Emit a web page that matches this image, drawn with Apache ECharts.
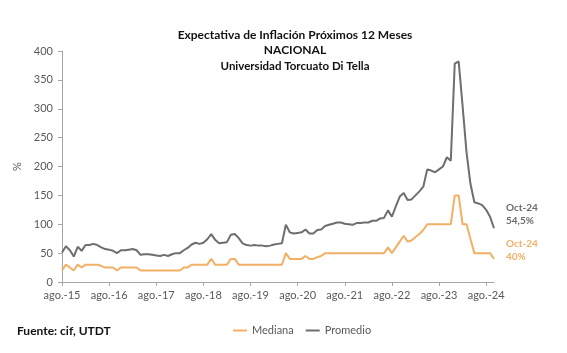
<!DOCTYPE html>
<html>
<head>
  <meta charset="UTF-8">
  <title>Expectativa de Inflación</title>
  <style type="text/css">
    html, body { margin: 0; padding: 0; background: #ffffff; }
    #chart { width: 567px; height: 353px; }
  </style>
  <script src="https://cdn.jsdelivr.net/npm/echarts@6/dist/echarts.min.js"></script>
</head>
<body>
<div id="chart"></div>
<script type="text/javascript">
    // meses desde ago-15 hasta oct-24
    var mesesCortos = ['ene', 'feb', 'mar', 'abr', 'may', 'jun', 'jul', 'ago', 'sep', 'oct', 'nov', 'dic'];
    var anios = ['15', '16', '17', '18', '19', '20', '21', '22', '23', '24'];

    // Mediana (%)
    var mediana = [
        20, 30, 25, 20, 30,                                  // 2015 ago-dic
        25, 30, 30, 30, 30, 28, 25, 25, 25, 20, 25, 25,      // 2016
        25, 25, 25, 20, 20, 20, 20, 20, 20, 20, 20, 20,      // 2017
        20, 20, 25, 25, 30, 30, 30, 30, 30, 40, 30, 30,      // 2018
        30, 30, 40, 40, 30, 30, 30, 30, 30, 30, 30, 30,      // 2019
        30, 30, 30, 30, 50, 40, 40, 40, 40, 45, 40, 40,      // 2020
        43, 45, 50, 50, 50, 50, 50, 50, 50, 50, 50, 50,      // 2021
        50, 50, 50, 50, 50, 50, 60, 50, 60, 70, 80, 70,      // 2022
        72, 78, 83, 90, 100, 100, 100, 100, 100, 100, 100, 150, // 2023
        150, 100, 100, 75, 50, 50, 50, 50, 50, 40             // 2024 ene-oct
    ];

    // Promedio (%)
    var promedio = [
        51, 62, 55, 44, 61,
        54, 64, 64, 66, 64, 60, 57, 56, 54, 50, 55, 55,
        56, 57, 55, 47, 48, 48, 47, 46, 45, 47, 45, 48,
        50, 50, 55, 59, 65, 68, 66, 68, 74, 83, 73, 67,
        68, 69, 82, 83, 76, 67, 64, 63, 64, 63, 63, 62,
        63, 65, 66, 67, 99, 86, 84, 85, 86, 91, 84, 84,
        90, 91, 97, 99, 101, 103, 103, 101, 100, 99, 102, 102,
        103, 103, 106, 106, 110, 111, 124, 113, 131, 148, 154, 142,
        143, 150, 157, 165, 195, 193, 190, 195, 200, 216, 210, 378,
        382, 305, 225, 170, 138, 136, 133, 125, 113, 93
    ];

    var etiquetaPromedio = 'Oct-24\n54,5%';
    var etiquetaMediana = 'Oct-24\n40%';

    var categorias = [];
    for (var a = 0; a < anios.length; a++) {
        for (var m = 0; m < 12; m++) {
            if (a === 0 && m < 7) continue;
            if (a === anios.length - 1 && m > 9) continue;
            categorias.push(mesesCortos[m] + '.-' + anios[a]);
        }
    }

    var fuente = 'Lato, "Liberation Sans", sans-serif';
    var naranja = '#F2B066';
    var gris = '#6E6E6E';
    var cadaAgosto = function (idx) { return idx % 12 === 0; };

    var myChart = echarts.init(document.getElementById('chart'));
    var option = {
        animation: false,
        textStyle: { fontFamily: fuente },
        title: [
            {
                text: 'Expectativa de Inflación Próximos 12 Meses',
                left: 290, top: 24, textAlign: 'center',
                textStyle: { fontSize: 12, fontWeight: 'bold', color: '#111', fontFamily: fuente }
            },
            {
                text: 'NACIONAL',
                left: 290, top: 39, textAlign: 'center',
                textStyle: { fontSize: 12, fontWeight: 'bold', color: '#111', fontFamily: fuente }
            },
            {
                text: 'Universidad Torcuato Di Tella',
                left: 290, top: 55, textAlign: 'center',
                textStyle: { fontSize: 11.5, fontWeight: 'bold', color: '#111', fontFamily: fuente }
            },
            {
                text: 'Fuente: cif, UTDT',
                left: 12, top: 320,
                textStyle: { fontSize: 12, fontWeight: 'bold', color: '#111', fontFamily: fuente }
            }
        ],
        legend: {
            left: 228, top: 320,
            icon: 'rect', itemWidth: 14, itemHeight: 2, itemGap: 12,
            textStyle: { fontSize: 11, color: '#595959', fontFamily: fuente },
            data: ['Mediana', 'Promedio']
        },
        grid: { left: 62, right: 73, top: 51, bottom: 71 },
        xAxis: {
            type: 'category',
            boundaryGap: false,
            data: categorias,
            axisLine: { lineStyle: { color: '#A6A6A6', width: 1 } },
            axisTick: { interval: cadaAgosto, length: 4, lineStyle: { color: '#A6A6A6' } },
            axisLabel: { interval: cadaAgosto, fontSize: 11, color: '#595959', margin: 8 }
        },
        yAxis: {
            type: 'value',
            min: 0, max: 400, interval: 50,
            name: '%', nameLocation: 'middle', nameGap: 37, nameRotate: 90,
            nameTextStyle: { fontSize: 11, color: '#595959' },
            axisLine: { show: true, lineStyle: { color: '#A6A6A6', width: 1 } },
            axisTick: { show: true, length: 4, lineStyle: { color: '#A6A6A6' } },
            axisLabel: { fontSize: 11, color: '#595959', margin: 9 },
            splitLine: { show: false }
        },
        series: [
            {
                name: 'Mediana',
                type: 'line',
                data: mediana,
                symbol: 'none',
                color: naranja,
                lineStyle: { width: 2, color: naranja },
                endLabel: {
                    show: true, formatter: etiquetaMediana, offset: [4, -9],
                    fontSize: 10, lineHeight: 13, fontWeight: 'bold', color: naranja
                }
            },
            {
                name: 'Promedio',
                type: 'line',
                data: promedio,
                symbol: 'none',
                color: gris,
                lineStyle: { width: 2, color: gris },
                endLabel: {
                    show: true, formatter: etiquetaPromedio, offset: [4, -14],
                    fontSize: 10, lineHeight: 13, fontWeight: 'bold', color: '#6B6B6B'
                }
            }
        ]
    };
    myChart.setOption(option);
</script>
</body>
</html>
